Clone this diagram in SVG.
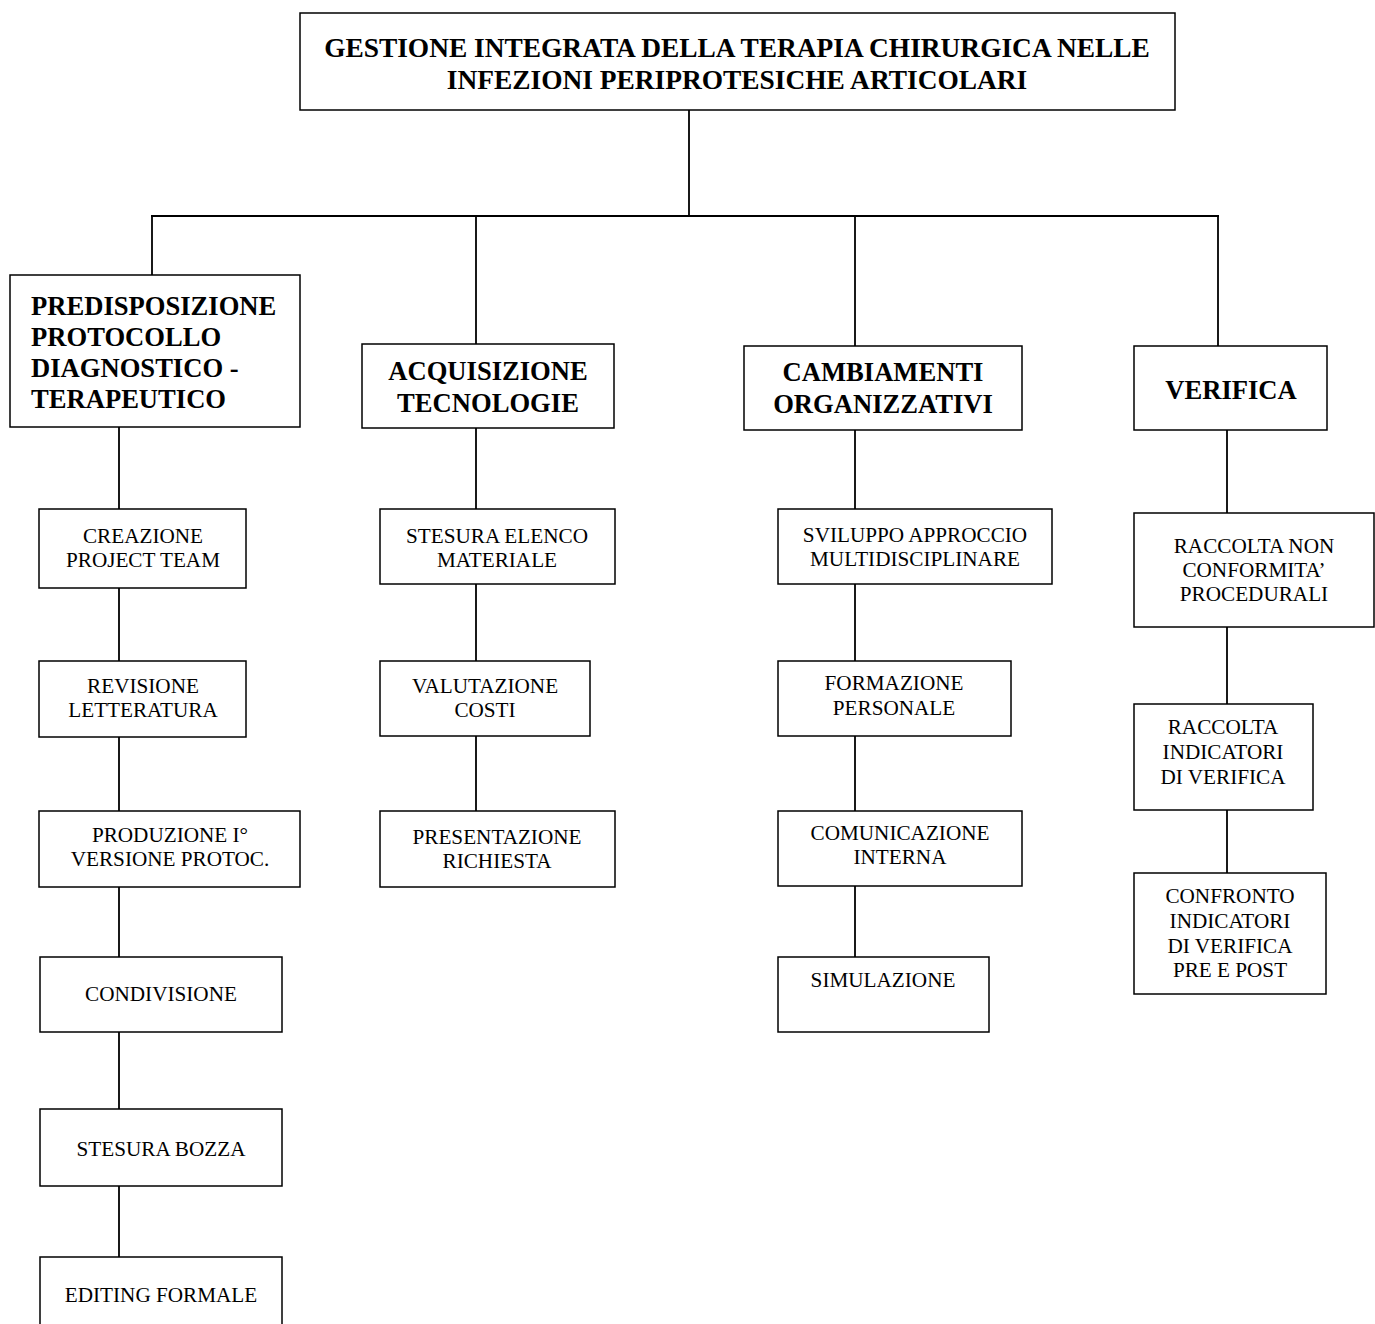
<svg xmlns="http://www.w3.org/2000/svg" width="1375" height="1324" viewBox="0 0 1375 1324">
<style>
rect{fill:#fff;stroke:#000;stroke-width:1.5}
.c line{stroke:#000;stroke-width:1.8}
text{font-family:"Liberation Serif","Times New Roman",serif;fill:#000}
.h{font-weight:bold;font-size:26.6px}
.ti{font-size:27.4px}
.t{font-size:21.2px;text-anchor:middle}
.m{text-anchor:middle}
</style>
<rect x="0" y="0" width="1375" height="1324" style="stroke:none"/>
<g class="c" id="connectors">
<line x1="689" y1="110" x2="689" y2="216"/>
<line x1="151" y1="216" x2="1219" y2="216"/>
<line x1="152" y1="216" x2="152" y2="275"/>
<line x1="476" y1="216" x2="476" y2="344"/>
<line x1="855" y1="216" x2="855" y2="346"/>
<line x1="1218" y1="216" x2="1218" y2="346"/>
<line x1="119" y1="427" x2="119" y2="509"/>
<line x1="119" y1="588" x2="119" y2="661"/>
<line x1="119" y1="737" x2="119" y2="811"/>
<line x1="119" y1="887" x2="119" y2="957"/>
<line x1="119" y1="1032" x2="119" y2="1109"/>
<line x1="119" y1="1186" x2="119" y2="1257"/>
<line x1="476" y1="428" x2="476" y2="509"/>
<line x1="476" y1="584" x2="476" y2="661"/>
<line x1="476" y1="736" x2="476" y2="811"/>
<line x1="855" y1="430" x2="855" y2="509"/>
<line x1="855" y1="584" x2="855" y2="661"/>
<line x1="855" y1="736" x2="855" y2="811"/>
<line x1="855" y1="886" x2="855" y2="957"/>
<line x1="1227" y1="430" x2="1227" y2="513"/>
<line x1="1227" y1="627" x2="1227" y2="704"/>
<line x1="1227" y1="810" x2="1227" y2="873"/>
</g>
<g id="root">
<rect x="300" y="13" width="875" height="97"/>
<text class="h ti m" x="737" y="57">GESTIONE INTEGRATA DELLA TERAPIA CHIRURGICA NELLE</text>
<text class="h ti m" x="737" y="89">INFEZIONI PERIPROTESICHE ARTICOLARI</text>
</g>
<g id="predisposizione">
<rect x="10" y="275" width="290" height="152"/>
<text class="h" x="31" y="315">PREDISPOSIZIONE</text>
<text class="h" x="31" y="346">PROTOCOLLO</text>
<text class="h" x="31" y="377">DIAGNOSTICO -</text>
<text class="h" x="31" y="408">TERAPEUTICO</text>
</g>
<g id="acquisizione">
<rect x="362" y="344" width="252" height="84"/>
<text class="h m" x="488" y="380">ACQUISIZIONE</text>
<text class="h m" x="488" y="412">TECNOLOGIE</text>
</g>
<g id="cambiamenti">
<rect x="744" y="346" width="278" height="84"/>
<text class="h m" x="883" y="381">CAMBIAMENTI</text>
<text class="h m" x="883" y="413">ORGANIZZATIVI</text>
</g>
<g id="verifica">
<rect x="1134" y="346" width="193" height="84"/>
<text class="h m" x="1231" y="399">VERIFICA</text>
</g>
<g id="creazione">
<rect x="39" y="509" width="207" height="79"/>
<text class="t" x="143" y="543">CREAZIONE</text>
<text class="t" x="143" y="567">PROJECT TEAM</text>
</g>
<g id="revisione">
<rect x="39" y="661" width="207" height="76"/>
<text class="t" x="143" y="693">REVISIONE</text>
<text class="t" x="143" y="717">LETTERATURA</text>
</g>
<g id="produzione">
<rect x="39" y="811" width="261" height="76"/>
<text class="t" x="170" y="842">PRODUZIONE I°</text>
<text class="t" x="170" y="866">VERSIONE PROTOC.</text>
</g>
<g id="condivisione">
<rect x="40" y="957" width="242" height="75"/>
<text class="t" x="161" y="1001">CONDIVISIONE</text>
</g>
<g id="stesura-bozza">
<rect x="40" y="1109" width="242" height="77"/>
<text class="t" x="161" y="1156">STESURA BOZZA</text>
</g>
<g id="editing">
<rect x="40" y="1257" width="242" height="100"/>
<text class="t" x="161" y="1302">EDITING FORMALE</text>
</g>
<g id="stesura-elenco">
<rect x="380" y="509" width="235" height="75"/>
<text class="t" x="497" y="543">STESURA ELENCO</text>
<text class="t" x="497" y="567">MATERIALE</text>
</g>
<g id="valutazione">
<rect x="380" y="661" width="210" height="75"/>
<text class="t" x="485" y="693">VALUTAZIONE</text>
<text class="t" x="485" y="717">COSTI</text>
</g>
<g id="presentazione">
<rect x="380" y="811" width="235" height="76"/>
<text class="t" x="497" y="844">PRESENTAZIONE</text>
<text class="t" x="497" y="868">RICHIESTA</text>
</g>
<g id="sviluppo">
<rect x="778" y="509" width="274" height="75"/>
<text class="t" x="915" y="542">SVILUPPO APPROCCIO</text>
<text class="t" x="915" y="566">MULTIDISCIPLINARE</text>
</g>
<g id="formazione">
<rect x="778" y="661" width="233" height="75"/>
<text class="t" x="894" y="690">FORMAZIONE</text>
<text class="t" x="894" y="715">PERSONALE</text>
</g>
<g id="comunicazione">
<rect x="778" y="811" width="244" height="75"/>
<text class="t" x="900" y="840">COMUNICAZIONE</text>
<text class="t" x="900" y="864">INTERNA</text>
</g>
<g id="simulazione">
<rect x="778" y="957" width="211" height="75"/>
<text class="t" x="883" y="987">SIMULAZIONE</text>
</g>
<g id="raccolta-non-conformita">
<rect x="1134" y="513" width="240" height="114"/>
<text class="t" x="1254" y="553">RACCOLTA NON</text>
<text class="t" x="1254" y="577">CONFORMITA’</text>
<text class="t" x="1254" y="601">PROCEDURALI</text>
</g>
<g id="raccolta-indicatori">
<rect x="1134" y="704" width="179" height="106"/>
<text class="t" x="1223" y="734">RACCOLTA</text>
<text class="t" x="1223" y="759">INDICATORI</text>
<text class="t" x="1223" y="784">DI VERIFICA</text>
</g>
<g id="confronto">
<rect x="1134" y="873" width="192" height="121"/>
<text class="t" x="1230" y="903">CONFRONTO</text>
<text class="t" x="1230" y="928">INDICATORI</text>
<text class="t" x="1230" y="953">DI VERIFICA</text>
<text class="t" x="1230" y="977">PRE E POST</text>
</g>
</svg>
